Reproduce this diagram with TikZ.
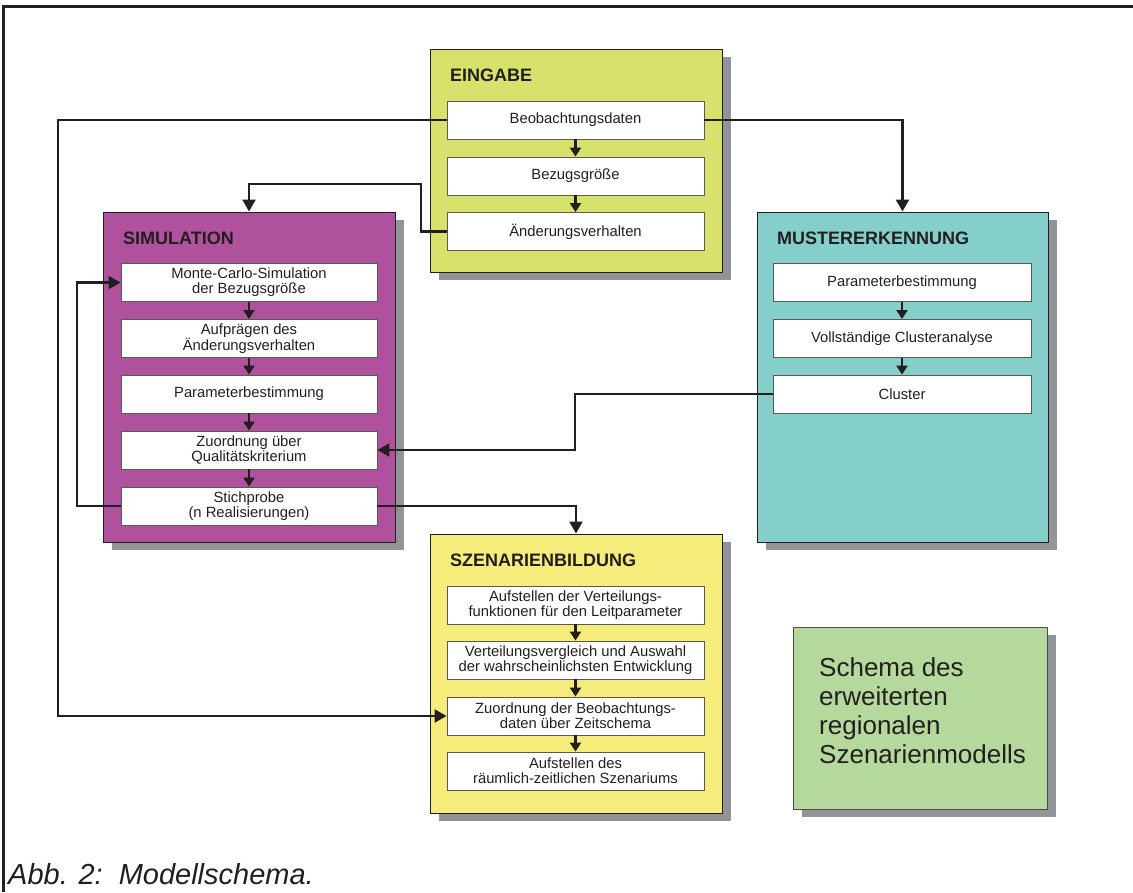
\documentclass[tikz,border=0pt]{standalone}
\usepackage{fontspec}
\setmainfont{Liberation Sans}
\usetikzlibrary{arrows.meta,shadows}
\definecolor{cEin}{HTML}{D7E16B}
\definecolor{cSim}{HTML}{B0519E}
\definecolor{cMus}{HTML}{85CFCA}
\definecolor{cSze}{HTML}{F6EC7C}
\definecolor{cLeg}{HTML}{B5D99C}
\definecolor{cShd}{HTML}{939497}
\definecolor{cLine}{HTML}{231F20}
\tikzset{
  groupbox/.style={draw=cLine, line width=1pt, inner sep=0pt,
    drop shadow={shadow xshift=9pt, shadow yshift=-8pt, fill=cShd, opacity=1}},
  stepbox/.style={draw=black!65, line width=0.9pt, fill=white, inner sep=0pt,
    minimum height=38pt, align=center, text=cLine,
    font=\fontsize{14.8}{15.2}\selectfont},
  grouptitle/.style={anchor=west, inner sep=0pt, font=\fontsize{18}{20}\selectfont\bfseries, text=cLine},
  conn/.style={draw=cLine, line width=2.4pt, -{Triangle[length=12pt,width=13pt]}},
  iarrow/.style={draw=cLine, line width=2.4pt, -{Triangle[length=9pt,width=11pt]}},
}
\begin{document}
\begin{tikzpicture}[x=1pt,y=-1pt]
\useasboundingbox (0,0) rectangle (1133,892);
\fill[white] (0,0) rectangle (1133,892);
% frame
\draw[line width=2.2pt, cLine] (1133,6.5) -- (3.5,6.5) -- (3.5,892);

% group boxes
\node[groupbox, fill=cEin, minimum width=292pt, minimum height=223pt] (ein) at (576,160.5) {};
\node[groupbox, fill=cSim, minimum width=292pt, minimum height=330pt] (sim) at (249,377) {};
\node[groupbox, fill=cMus, minimum width=291pt, minimum height=330pt] (mus) at (902.5,377) {};
\node[groupbox, fill=cSze, minimum width=292pt, minimum height=279pt] (sze) at (576,673.5) {};
\node[groupbox, fill=cLeg, draw=black!70, line width=0.9pt, minimum width=254pt, minimum height=182pt] (leg) at (920,718) {};

% titles
\node[grouptitle] (tein) at (450,75) {EINGABE};
\node[grouptitle] (tsim) at (123,238) {SIMULATION};
\node[grouptitle] (tmus) at (777,238) {MUSTERERKENNUNG};
\node[grouptitle] (tsze) at (450,560) {SZENARIENBILDUNG};

% EINGABE steps
\node[stepbox, minimum width=257pt] (beob) at (575.5,120) {Beobachtungsdaten};
\node[stepbox, minimum width=257pt] (bez) at (575.5,176) {Bezugsgröße};
\node[stepbox, minimum width=257pt] (aend) at (575.5,231.5) {Änderungsverhalten};

% SIMULATION steps
\node[stepbox, minimum width=256pt] (monte) at (249,282.5) {Monte-Carlo-Simulation\\der Bezugsgröße};
\node[stepbox, minimum width=256pt] (aufp) at (249,338.5) {Aufprägen des\\Änderungsverhalten};
\node[stepbox, minimum width=256pt] (spar) at (249,394) {Parameterbestimmung};
\node[stepbox, minimum width=256pt] (zuord) at (249,450) {Zuordnung über\\Qualitätskriterium};
\node[stepbox, minimum width=256pt] (stich) at (249,506) {Stichprobe\\(n Realisierungen)};

% MUSTERERKENNUNG steps
\node[stepbox, minimum width=258pt] (mpar) at (902,282.5) {Parameterbestimmung};
\node[stepbox, minimum width=258pt] (voll) at (902,338.5) {Vollständige Clusteranalyse};
\node[stepbox, minimum width=258pt] (clus) at (902,394) {Cluster};

% SZENARIENBILDUNG steps
\node[stepbox, minimum width=257pt] (zs1) at (575.5,605) {Aufstellen der Verteilungs-\\funktionen für den Leitparameter};
\node[stepbox, minimum width=257pt] (zs2) at (575.5,660) {Verteilungsvergleich und Auswahl\\der wahrscheinlichsten Entwicklung};
\node[stepbox, minimum width=257pt] (zs3) at (575.5,716) {Zuordnung der Beobachtungs-\\daten über Zeitschema};
\node[stepbox, minimum width=257pt] (zs4) at (575.5,771) {Aufstellen des\\räumlich-zeitlichen Szenariums};

% legend text
\node[anchor=west, align=left, inner sep=0pt, text=cLine,
  font=\fontsize{26}{29}\selectfont] (legt) at (819,711)
  {Schema des\\erweiterten\\regionalen\\Szenarienmodells};

% caption
\node[anchor=west, inner sep=0pt, text=cLine, font=\fontsize{29}{32}\selectfont\itshape] (cap) at (8,874)
  {Abb. 2:\hspace{16pt}Modellschema.};

% inner arrows
\draw[iarrow] (beob.south) -- (bez.north);
\draw[iarrow] (bez.south) -- (aend.north);
\draw[iarrow] (monte.south) -- (aufp.north);
\draw[iarrow] (aufp.south) -- (spar.north);
\draw[iarrow] (spar.south) -- (zuord.north);
\draw[iarrow] (zuord.south) -- (stich.north);
\draw[iarrow] (mpar.south) -- (voll.north);
\draw[iarrow] (voll.south) -- (clus.north);
\draw[iarrow] (zs1.south) -- (zs2.north);
\draw[iarrow] (zs2.south) -- (zs3.north);
\draw[iarrow] (zs3.south) -- (zs4.north);

% connectors
\coordinate (kl) at (58,0);
\coordinate (ka) at (421,184);
\coordinate (ks) at (77,0);
\coordinate (kc) at (575,450);
\draw[conn] (beob.west) -- (beob.west -| kl) |- (zs3.west);
\draw[conn] (beob.east) -| (mus.north);
\draw[conn] (aend.west) -| (ka) -| (sim.north);
\draw[conn] (stich.west) -- (stich.west -| ks) |- (monte.west);
\draw[conn] (clus.west) -| (kc) -- (zuord.east);
\draw[conn] (stich.east) -| (sze.north);
\end{tikzpicture}
\end{document}
